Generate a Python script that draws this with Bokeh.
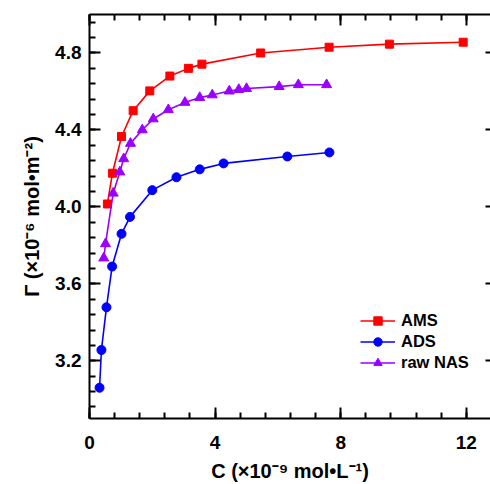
from bokeh.plotting import figure
from bokeh.models import (LinearAxis, SingleIntervalTicker, Range1d,
                          Legend, LegendItem, PrintfTickFormatter, BasicTickFormatter)
from bokeh.embed import file_html
from bokeh.resources import INLINE

# ---------------- data ----------------
ams_c = [0.57, 0.73, 1.02, 1.39, 1.92, 2.56, 3.15, 3.58, 5.45, 7.63, 9.55, 11.90]
ams_g = [4.015, 4.175, 4.366, 4.500, 4.603, 4.680, 4.720, 4.742, 4.800, 4.830, 4.846, 4.856]

ads_c = [0.32, 0.38, 0.54, 0.72, 1.02, 1.29, 2.00, 2.77, 3.51, 4.27, 6.30, 7.64]
ads_g = [3.060, 3.256, 3.478, 3.690, 3.860, 3.948, 4.087, 4.154, 4.195, 4.226, 4.262, 4.283]

nas_c = [0.455, 0.51, 0.755, 0.965, 1.09, 1.306, 1.68, 2.03, 2.51, 3.04, 3.51, 3.91,
         4.45, 4.755, 5.00, 6.04, 6.65, 7.55]
nas_g = [3.734, 3.808, 4.071, 4.181, 4.250, 4.330, 4.400, 4.457, 4.505, 4.543, 4.568, 4.582,
         4.602, 4.610, 4.615, 4.625, 4.635, 4.635]

series_names = ["AMS", "ADS", "raw NAS"]
x_title = "C (\u00d710\u207b\u2079 mol\u2022L\u207b\u00b9)"
y_title = "\u0393 (\u00d710\u207b\u2076 mol\u2022m\u207b\u00b2)"

X0, X1 = 0.0, 12.77
Y0, Y1 = 2.9, 5.0
x_major, y_major = 4, 0.4

RED, BLUE, PURPLE = "#FF0000", "#0000FF", "#9A00FF"
FONT = "Liberation Sans"

p = figure(width=490, height=484, x_range=Range1d(X0, X1), y_range=Range1d(Y0, Y1),
           output_backend="svg", toolbar_location=None,
           min_border_left=89, min_border_right=0, min_border_top=14, min_border_bottom=63,
           x_axis_location=None, y_axis_location=None,
           background_fill_color="white", border_fill_color="white",
           outline_line_color=None)
p.xgrid.grid_line_color = None
p.ygrid.grid_line_color = None


def make_axis(ticker, formatter, show_labels, tick_in, minor_in, line=True, standoff=14,
              title=None, title_standoff=0):
    ax = LinearAxis(ticker=ticker, formatter=formatter,
                    axis_line_color="black" if line else None, axis_line_width=2,
                    major_tick_line_color="black", major_tick_line_width=2,
                    minor_tick_line_color="black", minor_tick_line_width=2,
                    major_tick_in=tick_in, major_tick_out=0,
                    minor_tick_in=minor_in, minor_tick_out=0,
                    major_label_text_font=FONT, major_label_text_font_style="bold",
                    major_label_text_color="black" if show_labels else None,
                    major_label_text_font_size="19px" if show_labels else "0px",
                    major_label_standoff=standoff if show_labels else 0)
    if title is not None:
        ax.axis_label = title
        ax.axis_label_text_font = FONT
        ax.axis_label_text_font_style = "bold"
        ax.axis_label_text_font_size = "20px"
        ax.axis_label_text_color = "black"
        ax.axis_label_standoff = title_standoff
    return ax


xt = SingleIntervalTicker(interval=x_major, num_minor_ticks=5)
yt = SingleIntervalTicker(interval=y_major, num_minor_ticks=5)

p.add_layout(make_axis(xt, BasicTickFormatter(), True, 11, 6, standoff=17,
                       title=x_title, title_standoff=8), "below")
p.add_layout(make_axis(yt, PrintfTickFormatter(format="%.1f"), True, 11, 6, standoff=8,
                       title=y_title, title_standoff=9), "left")
p.add_layout(make_axis(xt, BasicTickFormatter(), False, 11, 6), "above")
p.add_layout(make_axis(yt, BasicTickFormatter(), False, 5, 0, line=False), "right")

# ---------------- series ----------------
l1 = p.line(ams_c, ams_g, line_color=RED, line_width=1.6)
m1 = p.scatter(ams_c, ams_g, marker="square", size=8, fill_color=RED, line_color=RED)
l2 = p.line(ads_c, ads_g, line_color=BLUE, line_width=1.6)
m2 = p.scatter(ads_c, ads_g, marker="circle", size=9, fill_color=BLUE, line_color=BLUE)
l3 = p.line(nas_c, nas_g, line_color=PURPLE, line_width=1.6)
m3 = p.scatter(nas_c, nas_g, marker="triangle", size=10, fill_color=PURPLE, line_color=PURPLE)

legend = Legend(items=[LegendItem(label=series_names[0], renderers=[l1, m1]),
                       LegendItem(label=series_names[1], renderers=[l2, m2]),
                       LegendItem(label=series_names[2], renderers=[l3, m3])],
                location=(271, 45), border_line_color=None, background_fill_alpha=0,
                padding=0, margin=0, spacing=0, glyph_width=35, glyph_height=21,
                label_height=21, label_standoff=6,
                label_text_font=FONT, label_text_font_style="bold",
                label_text_font_size="16.5px", label_text_color="black")
p.add_layout(legend, "center")

open("out.html", "w").write(file_html(p, INLINE))
